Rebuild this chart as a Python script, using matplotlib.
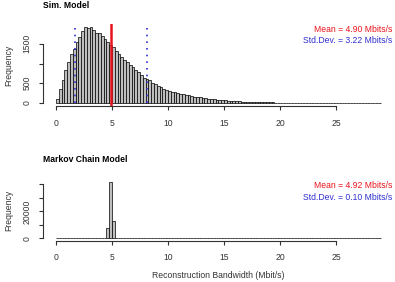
import matplotlib
matplotlib.use('Agg')
import matplotlib.pyplot as plt
import numpy as np

plt.rcParams['font.family'] = ['Liberation Sans', 'DejaVu Sans']

# bin left edges (width 0.25) and counts
bin_w = 0.25
sim_counts = [110, 345, 590, 825, 1035, 1230, 1370, 1540, 1680, 1835,
              1920, 1900, 1925, 1860, 1780, 1770, 1710, 1625, 1540, 1480,
              1415, 1310, 1245, 1160, 1095, 1035, 950, 910, 840, 780,
              700, 640, 615, 570, 515, 490, 430, 405, 360, 330,
              305, 285, 270, 250, 235, 215, 200, 190, 175, 162,
              150, 140, 128, 118, 108, 100, 92, 84, 77, 70,
              64, 58, 53, 48, 44, 40, 36, 33, 30, 27,
              24, 22, 20, 18, 16, 15, 13, 12, 11, 10,
              9, 8, 7, 7, 6, 5, 5, 4, 4, 3,
              3, 3, 2, 2, 2, 2, 1, 1, 1, 0,
              1, 0, 1, 0, 0, 1, 0, 0, 1, 0,
              0, 0, 1, 0, 0, 1]
sim_edges = np.arange(len(sim_counts)) * bin_w

markov_counts = np.zeros(len(sim_counts))
markov_counts[18] = 8000     # 4.50-4.75
markov_counts[19] = 41800    # 4.75-5.00
markov_counts[20] = 13200    # 5.00-5.25

sim_mean, sim_sd = 4.90, 3.22
markov_mean, markov_sd = 4.92, 0.10

xticks = [0, 5, 10, 15, 20, 25]
fs = 6.2

fig = plt.figure(figsize=(3.95, 2.82), dpi=100)
W, H = 395, 282


def make_axes(top_px, bottom_px):
    left, right = 43, 393.8
    return fig.add_axes([left / W, 1 - bottom_px / H, (right - left) / W,
                         (bottom_px - top_px) / H])


def style(ax, ymax, yticks, ylabels):
    xmax = sim_edges[-1] + bin_w
    ax.set_xlim(-0.04 * xmax, 1.04 * xmax)
    ax.set_ylim(-0.04 * ymax, 1.04 * ymax)
    for s in ['top', 'right']:
        ax.spines[s].set_visible(False)
    ax.spines['left'].set_bounds(yticks[0], yticks[-1])
    ax.spines['bottom'].set_bounds(0, 25)
    for s in ['left', 'bottom']:
        ax.spines[s].set_linewidth(0.8)
        ax.spines[s].set_color('#333333')
    ax.set_xticks(xticks)
    ax.set_xticklabels([str(t) for t in xticks], fontsize=fs, color='#333333')
    ax.set_yticks(yticks)
    ax.set_yticklabels(ylabels, fontsize=fs, rotation=90, va='center',
                       color='#333333')
    ax.tick_params(direction='out', length=3.2, width=0.8, color='#333333')
    ax.tick_params(axis='x', pad=6)
    ax.tick_params(axis='y', pad=5)
    ax.set_ylabel('Frequency', fontsize=fs, color='#333333', labelpad=7)


# top panel
ax1 = make_axes(24, 106)
ax1.bar(sim_edges, sim_counts, width=bin_w, align='edge', color='#bebebe',
        edgecolor='black', linewidth=0.5)
style(ax1, max(sim_counts), [0, 500, 1000, 1500], ['0', '500', '', '1500'])
ax1.axvline(sim_mean, color='#e8141c', lw=1.8)
ax1.vlines([sim_mean - sim_sd, sim_mean + sim_sd], 0, max(sim_counts),
           colors='#3030d0', linestyles=(0, (1, 3)), lw=1.2)

# bottom panel
ax2 = make_axes(179.6, 240.6)
ax2.bar(sim_edges, markov_counts, width=bin_w, align='edge', color='#bebebe',
        edgecolor='black', linewidth=0.5)
style(ax2, markov_counts.max(), [0, 10000, 20000, 30000, 40000],
      ['0', '', '20000', '', ''])

fig.text(43 / W, 1 - 5 / H, 'Sim. Model', fontsize=fs, fontweight='bold',
         ha='left', va='center')
fig.text(43 / W, 1 - 160 / H, 'Markov Chain Model', fontsize=fs,
         fontweight='bold', ha='left', va='center')

fig.text(392 / W, 1 - 29 / H, 'Mean = %.2f Mbits/s' % sim_mean, fontsize=fs,
         color='#e8141c', ha='right', va='center')
fig.text(392 / W, 1 - 41 / H, 'Std.Dev. = %.2f Mbits/s' % sim_sd, fontsize=fs,
         color='#3030d0', ha='right', va='center')
fig.text(392 / W, 1 - 186 / H, 'Mean = %.2f Mbits/s' % markov_mean,
         fontsize=fs, color='#e8141c', ha='right', va='center')
fig.text(392 / W, 1 - 197 / H, 'Std.Dev. = %.2f Mbits/s' % markov_sd,
         fontsize=fs, color='#3030d0', ha='right', va='center')

fig.text(218 / W, 1 - 276 / H, 'Reconstruction Bandwidth (Mbit/s)',
         fontsize=fs, color='#333333', ha='center', va='center')

fig.savefig('out.png', dpi=100)
